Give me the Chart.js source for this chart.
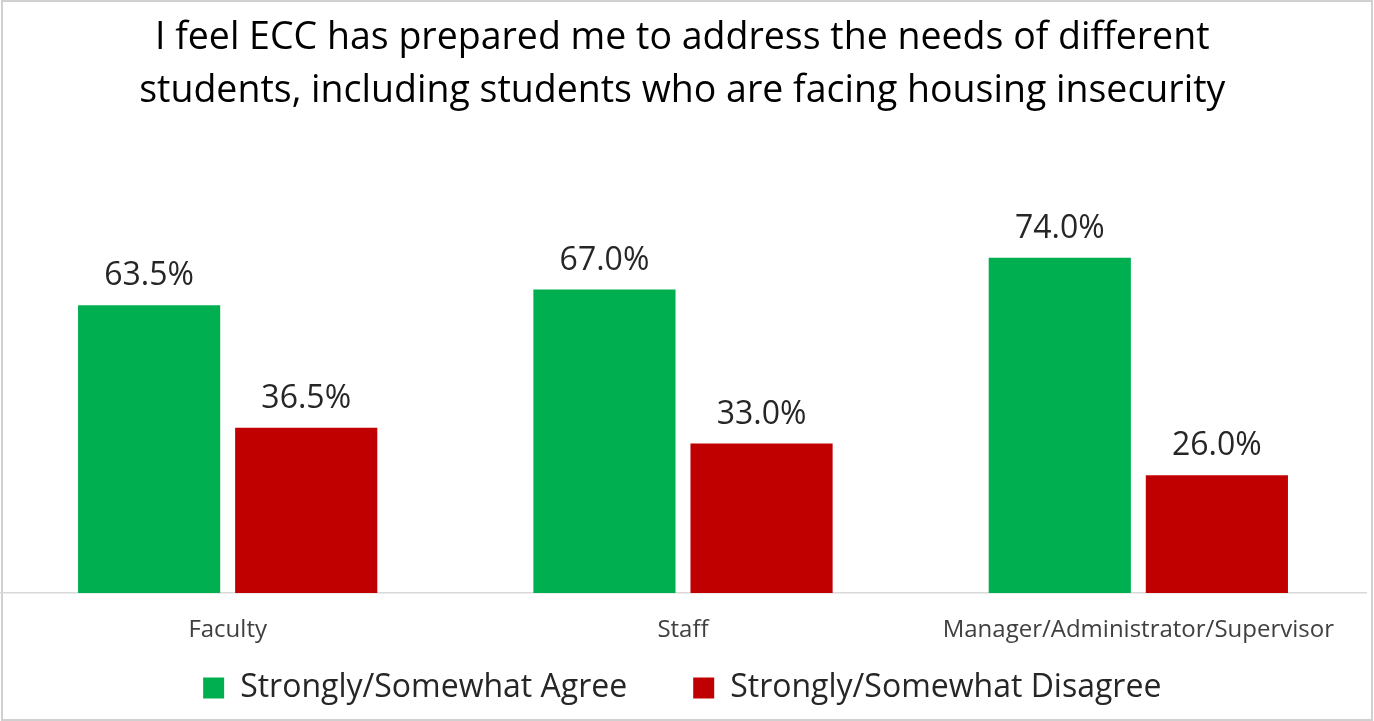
<!DOCTYPE html>
<html>
<head>
<meta charset="utf-8">
<script src="https://cdn.jsdelivr.net/npm/chart.js@4/dist/chart.umd.min.js"></script>
<style>
  html, body { margin: 0; padding: 0; background: #fff; }
  #wrap { width: 1374px; height: 721px; position: relative; }
</style>
</head>
<body>
<div id="wrap"><canvas id="c" width="1374" height="721"></canvas></div>
<script>
const categories = ['Faculty', 'Staff', 'Manager/Administrator/Supervisor'];
const agreeValues = [63.5, 67.0, 74.0];
const disagreeValues = [36.5, 33.0, 26.0];
const seriesNames = ['Strongly/Somewhat Agree', 'Strongly/Somewhat Disagree'];
const titleLines = ['I feel ECC has prepared me to address the needs of different',
                    'students, including students who are facing housing insecurity'];

const FONT = '"Open Sans", Lato, sans-serif';
const LEGEND_FONT = 32;
const LEGEND_CENTER_Y = 688;   // vertical centre of the legend row

// Percent labels above each bar
const valueLabels = {
  id: 'valueLabels',
  afterDatasetsDraw(chart) {
    const ctx = chart.ctx;
    ctx.save();
    ctx.font = '32px ' + FONT;
    ctx.fillStyle = '#262626';
    ctx.textAlign = 'center';
    ctx.textBaseline = 'middle';
    chart.data.datasets.forEach((ds, i) => {
      chart.getDatasetMeta(i).data.forEach((bar, j) => {
        ctx.fillText(ds.data[j].toFixed(1) + '%', bar.x, bar.y - 29);
      });
    });
    ctx.restore();
  }
};

// White background and light frame around the chart
const frame = {
  id: 'frame',
  beforeDraw(chart) {
    const ctx = chart.ctx;
    ctx.save();
    ctx.fillStyle = '#fff';
    ctx.fillRect(0, 0, chart.width, chart.height);
    ctx.strokeStyle = '#d0d0d0';
    ctx.lineWidth = 2;
    ctx.strokeRect(2, 1, chart.width - 4, chart.height - 2);
    ctx.restore();
  }
};

// The legend uses wide label padding for the gap between its two entries;
// raise the top of its box so the row sits close under the category names.
const legendRow = {
  id: 'legendRow',
  afterLayout(chart) {
    const lg = chart.legend;
    if (!lg) return;
    const pad = lg.options.labels.padding;
    const itemH = Math.max(LEGEND_FONT, lg.options.labels.boxHeight);
    const d = lg.top + pad + itemH / 2 - LEGEND_CENTER_Y;
    lg.top -= d;
    lg.height = lg.bottom - lg.top;
  }
};

new Chart(document.getElementById('c'), {
  type: 'bar',
  data: {
    labels: categories,
    datasets: [
      { label: seriesNames[0], data: agreeValues, backgroundColor: '#00B050' },
      { label: seriesNames[1], data: disagreeValues, backgroundColor: '#C00000' }
    ]
  },
  options: {
    responsive: false,
    animation: false,
    devicePixelRatio: 1,
    categoryPercentage: 0.69,
    barPercentage: 0.905,
    layout: { padding: { left: -1.5, right: 8, top: 0, bottom: 0 } },
    scales: {
      x: {
        grid: { display: false },
        border: { display: true, color: '#d9d9d9', width: 1.5 },
        ticks: { color: '#404040', font: { family: FONT, size: 24 }, padding: 15 },
        afterFit(scale) { scale.height = 56; }
      },
      y: { display: false, min: 0, max: 100 }
    },
    plugins: {
      title: {
        display: true,
        text: titleLines,
        color: '#000',
        font: { family: FONT, size: 37.5, weight: 'normal', lineHeight: 1.413 },
        padding: { top: 11.5, bottom: 22.5 }
      },
      legend: {
        position: 'bottom',
        maxHeight: 72,
        labels: {
          color: '#262626',
          font: { family: FONT, size: LEGEND_FONT },
          boxWidth: 21,
          boxHeight: 21,
          padding: 66
        }
      },
      tooltip: { enabled: false }
    }
  },
  plugins: [frame, valueLabels, legendRow]
});
</script>
</body>
</html>
